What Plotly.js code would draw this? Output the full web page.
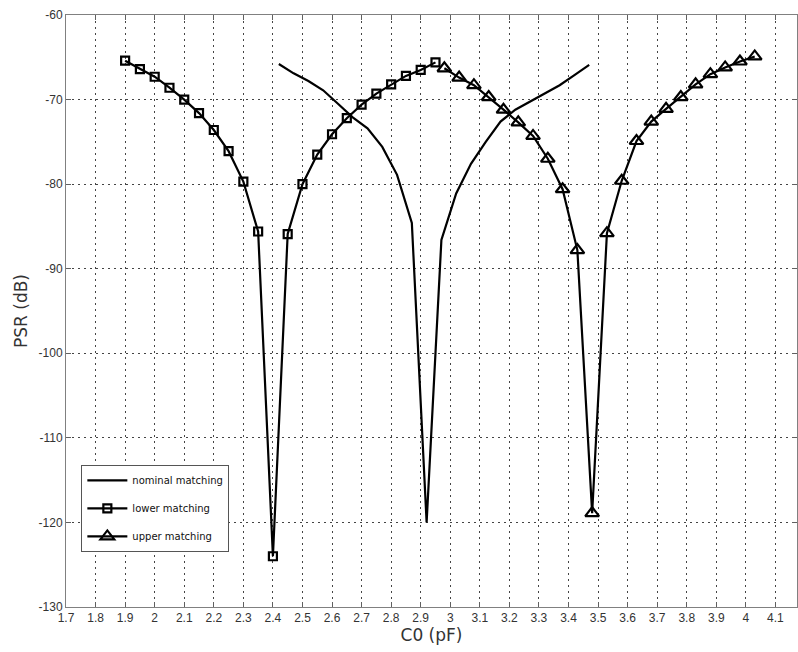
<!DOCTYPE html>
<html>
<head>
<meta charset="utf-8">
<script src="https://cdn.plot.ly/plotly-3.0.1.min.js"></script>
<style>
  html, body { margin: 0; padding: 0; background: #ffffff; }
  #chart { width: 798px; height: 652px; }
</style>
</head>
<body>
<div id="chart"></div>
<script>
// ---- data ----
const nominalX = [2.42, 2.47, 2.52, 2.57, 2.62, 2.67, 2.72, 2.77, 2.82, 2.87, 2.92,
                  2.97, 3.02, 3.07, 3.12, 3.17, 3.22, 3.27, 3.32, 3.37, 3.42, 3.47];
const nominalY = [-65.8, -66.9, -67.8, -68.9, -70.5, -72.1, -73.4, -75.6, -78.9, -84.6, -120,
                  -86.6, -81.1, -77.6, -75.0, -72.6, -71.2, -70.2, -69.3, -68.3, -67.1, -65.9];

const lowerX = [1.90, 1.95, 2.00, 2.05, 2.10, 2.15, 2.20, 2.25, 2.30, 2.35, 2.40,
                2.45, 2.50, 2.55, 2.60, 2.65, 2.70, 2.75, 2.80, 2.85, 2.90, 2.95];
const lowerY = [-65.4, -66.4, -67.3, -68.6, -70.0, -71.6, -73.6, -76.1, -79.7, -85.6, -124,
                -85.9, -80.0, -76.5, -74.1, -72.2, -70.6, -69.3, -68.2, -67.2, -66.5, -65.6];

const upperX = [2.98, 3.03, 3.08, 3.13, 3.18, 3.23, 3.28, 3.33, 3.38, 3.43, 3.48,
                3.53, 3.58, 3.63, 3.68, 3.73, 3.78, 3.83, 3.88, 3.93, 3.98, 4.03];
const upperY = [-66.3, -67.4, -68.3, -69.7, -71.2, -72.7, -74.3, -77.0, -80.6, -87.8, -118.9,
                -85.8, -79.6, -74.9, -72.6, -71.1, -69.7, -68.2, -67.0, -66.2, -65.5, -64.9];

const seriesNames = ["nominal matching", "lower matching", "upper matching"];

const xTickVals = [1.7, 1.8, 1.9, 2.0, 2.1, 2.2, 2.3, 2.4, 2.5, 2.6, 2.7, 2.8, 2.9,
                   3.0, 3.1, 3.2, 3.3, 3.4, 3.5, 3.6, 3.7, 3.8, 3.9, 4.0, 4.1];
const xTickText = ["1.7", "1.8", "1.9", "2", "2.1", "2.2", "2.3", "2.4", "2.5", "2.6", "2.7", "2.8", "2.9",
                   "3", "3.1", "3.2", "3.3", "3.4", "3.5", "3.6", "3.7", "3.8", "3.9", "4", "4.1"];
const yTickVals = [-130, -120, -110, -100, -90, -80, -70, -60];
const yTickText = ["-130", "-120", "-110", "-100", "-90", "-80", "-70", "-60"];

// ---- traces ----
const lineStyle = { color: "#000000", width: 2.2 };
const traces = [
  {
    x: nominalX, y: nominalY, name: seriesNames[0], type: "scatter", mode: "lines",
    line: lineStyle, legendgroup: "a"
  },
  {
    x: lowerX, y: lowerY, name: seriesNames[1], type: "scatter", mode: "lines+markers",
    line: lineStyle, legendgroup: "b",
    marker: { symbol: "square-open", size: 8, color: "#000000", line: { color: "#000000", width: 2.2 } }
  },
  {
    x: upperX, y: upperY, name: seriesNames[2], type: "scatter", mode: "lines+markers",
    line: lineStyle, legendgroup: "c",
    marker: { symbol: "triangle-up-open", size: 12, color: "#000000", line: { color: "#000000", width: 2.2 } }
  }
];

const axisCommon = {
  showline: true, mirror: "ticks", linecolor: "#808080", linewidth: 1,
  ticks: "inside", ticklen: 5, tickcolor: "#606060", tickwidth: 1,
  showgrid: true, gridcolor: "#444444", gridwidth: 1, griddash: "2px,4px",
  zeroline: false,
  tickfont: { family: "Liberation Sans, Arial, sans-serif", size: 12, color: "#333333" }
};

const layout = {
  width: 798, height: 652,
  paper_bgcolor: "#ffffff", plot_bgcolor: "#ffffff",
  margin: { l: 66, r: 1, t: 15, b: 45 },
  showlegend: true,
  legend: {
    x: 0.021, y: 0.093, xanchor: "left", yanchor: "bottom",
    bgcolor: "#ffffff", bordercolor: "#555555", borderwidth: 1,
    font: { family: "DejaVu Sans, Verdana, sans-serif", size: 10, color: "#111111" },
    tracegroupgap: 9, itemwidth: 40
  },
  xaxis: Object.assign({}, axisCommon, {
    range: [1.7, 4.173], tickvals: xTickVals, ticktext: xTickText,
    title: { text: "C0 (pF)", standoff: 4,
             font: { family: "DejaVu Sans, Verdana, sans-serif", size: 17, color: "#333333" } }
  }),
  yaxis: Object.assign({}, axisCommon, {
    range: [-130, -60], tickvals: yTickVals, ticktext: yTickText,
    title: { text: "PSR (dB)", standoff: 6,
             font: { family: "DejaVu Sans, Verdana, sans-serif", size: 17, color: "#333333" } }
  })
};

Plotly.newPlot("chart", traces, layout, { staticPlot: true, displayModeBar: false });
</script>
</body>
</html>
